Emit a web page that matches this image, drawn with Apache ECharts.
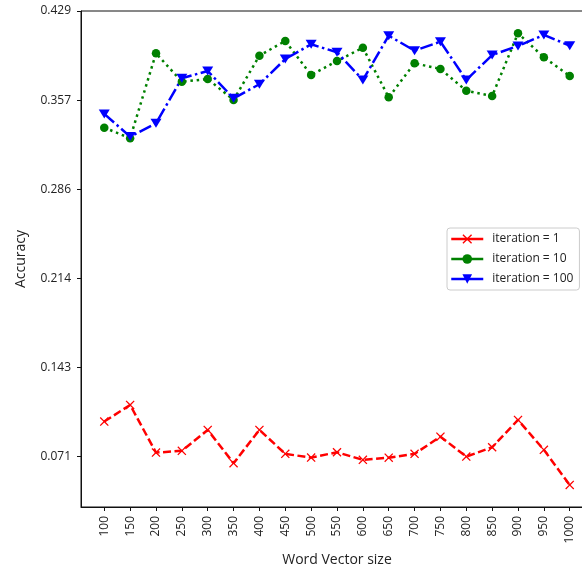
<!DOCTYPE html>
<html>
<head>
<meta charset="utf-8">
<script src="https://cdn.jsdelivr.net/npm/echarts@6/dist/echarts.min.js"></script>
<style>
  html, body { margin: 0; padding: 0; background: #fff; }
  #chart { width: 582px; height: 574px; }
</style>
</head>
<body>
<div id="chart"></div>
<script>
// Word vector sizes along the x axis
const vectorSizes = [100, 150, 200, 250, 300, 350, 400, 450, 500, 550, 600, 650, 700, 750, 800, 850, 900, 950, 1000];

// Accuracy per vector size for each iteration count
const accIter1 = [0.0995, 0.1128, 0.0746, 0.0760, 0.0928, 0.0661, 0.0928, 0.0736, 0.0706, 0.0749,
                  0.0688, 0.0705, 0.0736, 0.0874, 0.0714, 0.0789, 0.1008, 0.0768, 0.0487];
const accIter10 = [0.3351, 0.3266, 0.3947, 0.3719, 0.3741, 0.3573, 0.3928, 0.4046, 0.3773, 0.3885,
                   0.3992, 0.3594, 0.3867, 0.3821, 0.3647, 0.3605, 0.4107, 0.3915, 0.3765];
const accIter100 = [0.3461, 0.3279, 0.3386, 0.3747, 0.3805, 0.3586, 0.3699, 0.3901, 0.4019, 0.3955,
                    0.3733, 0.4088, 0.3968, 0.4040, 0.3733, 0.3933, 0.4006, 0.4094, 0.4008];

// Y tick positions (labels shown with three decimals)
const yTicks = [0.0714, 0.1429, 0.2143, 0.2857, 0.3571, 0.4286];

const seriesNames = ['iteration = 1', 'iteration = 10', 'iteration = 100'];

const pairs = vals => vals.map((v, i) => [vectorSizes[i], v]);

const xMark = 'path://M0,1 L1,0 L5,4 L9,0 L10,1 L6,5 L10,9 L9,10 L5,6 L1,10 L0,9 L4,5 Z';
const triDown = 'path://M0,0 L10,0 L5,9 Z';

const font = 'Open Sans';

const chart = echarts.init(document.getElementById('chart'), null, { renderer: 'canvas' });

chart.setOption({
  animation: false,
  backgroundColor: '#fff',
  textStyle: { fontFamily: font },
  grid: {
    left: 81, top: 11, width: 512, height: 496,
    outerBoundsMode: 'none',
    show: true, borderColor: '#111', borderWidth: 1
  },
  legend: {
    orient: 'vertical',
    left: 447, top: 228,
    padding: [5, 6, 5, 3],
    itemGap: 8,
    itemWidth: 32,
    itemHeight: 12,
    backgroundColor: '#fff',
    borderColor: '#cccccc',
    borderWidth: 1,
    borderRadius: 3,
    textStyle: { fontFamily: font, fontSize: 12, color: '#222', padding: [0, 0, 0, 4] },
    lineStyle: { type: 'solid', width: 2.5 },
    data: seriesNames
  },
  xAxis: {
    type: 'value',
    min: 55, max: 1045,
    name: 'Word Vector size',
    nameLocation: 'middle',
    nameGap: 46,
    nameTextStyle: { fontFamily: font, fontSize: 14, color: '#222' },
    axisLine: { show: true, lineStyle: { color: '#111', width: 1 } },
    axisTick: { show: true, length: 4, customValues: vectorSizes, lineStyle: { color: '#111' } },
    axisLabel: {
      show: true, rotate: 90, margin: 9,
      customValues: vectorSizes,
      formatter: v => String(v),
      fontFamily: font, fontSize: 12, color: '#222'
    },
    splitLine: { show: false }
  },
  yAxis: {
    type: 'value',
    min: 0.031, max: 0.4286,
    name: 'Accuracy',
    nameLocation: 'middle',
    nameGap: 53,
    nameTextStyle: { fontFamily: font, fontSize: 14, color: '#222' },
    axisLine: { show: true, lineStyle: { color: '#111', width: 1 } },
    axisTick: { show: true, length: 4, customValues: yTicks, lineStyle: { color: '#111' } },
    axisLabel: {
      show: true, margin: 10,
      customValues: yTicks,
      formatter: v => v.toFixed(3),
      fontFamily: font, fontSize: 12, color: '#222'
    },
    splitLine: { show: false }
  },
  series: [
    {
      name: seriesNames[0],
      type: 'line',
      data: pairs(accIter1),
      symbol: xMark,
      symbolSize: 9,
      showAllSymbol: true,
      itemStyle: { color: '#ff0000' },
      lineStyle: { color: '#ff0000', width: 2.5, type: [8, 3.5] }
    },
    {
      name: seriesNames[1],
      type: 'line',
      data: pairs(accIter10),
      symbol: 'circle',
      symbolSize: 8.5,
      showAllSymbol: true,
      itemStyle: { color: '#008000' },
      lineStyle: { color: '#008000', width: 2.5, type: [2.5, 3.8] }
    },
    {
      name: seriesNames[2],
      type: 'line',
      data: pairs(accIter100),
      symbol: triDown,
      symbolSize: [11, 9],
      showAllSymbol: true,
      itemStyle: { color: '#0000ff' },
      lineStyle: { color: '#0000ff', width: 2.5, type: [13, 3.5, 2.5, 3.5] }
    }
  ]
});
</script>
</body>
</html>
